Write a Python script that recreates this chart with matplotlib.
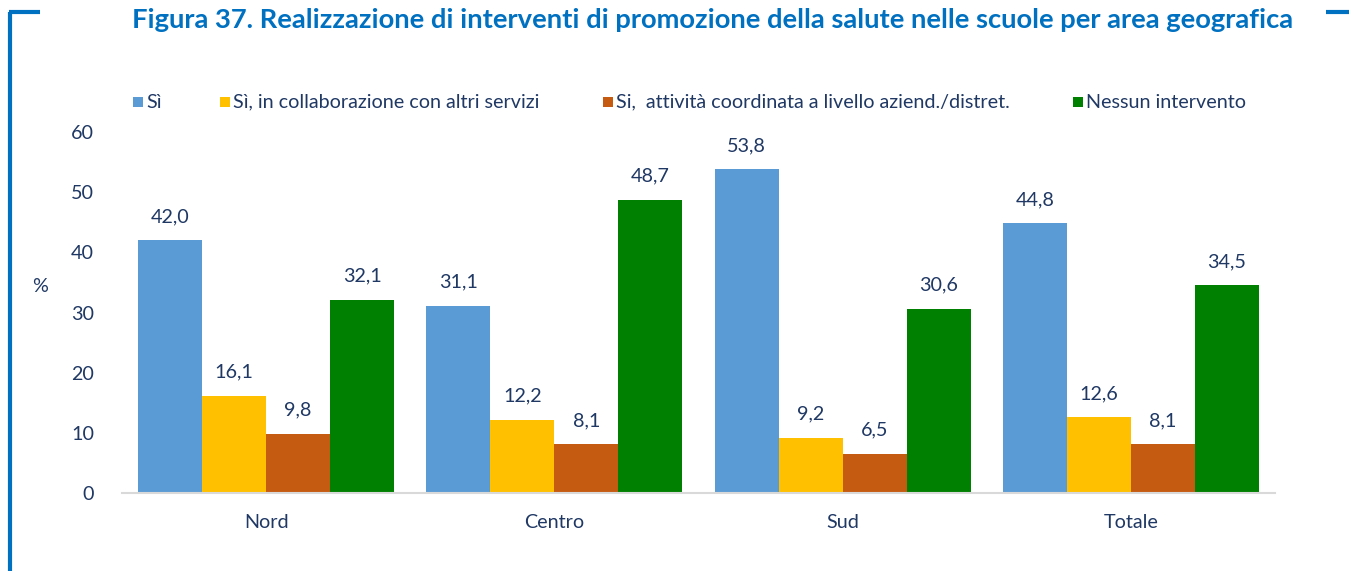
import matplotlib
matplotlib.use("Agg")
import matplotlib.pyplot as plt
import numpy as np
from matplotlib.patches import Rectangle
from matplotlib.lines import Line2D

plt.rcParams['font.family'] = ['Lato', 'DejaVu Sans']

categories = ["Nord", "Centro", "Sud", "Totale"]
series_names = [
    "Sì",
    "Sì, in collaborazione con altri servizi",
    "Si,  attività coordinata a livello aziend./distret.",
    "Nessun intervento",
]
si = [42.0, 31.1, 53.8, 44.8]
si_collab = [16.1, 12.2, 9.2, 12.6]
si_coord = [9.8, 8.1, 6.5, 8.1]
nessuno = [32.1, 48.7, 30.6, 34.5]
series_values = [si, si_collab, si_coord, nessuno]
yticks = [0, 10, 20, 30, 40, 50, 60]

colors = ["#5B9BD5", "#FFC000", "#C55A11", "#008000"]
text_color = "#1F3864"
title_color = "#0070C0"
fs = 14.2

W, H = 1349, 571
fig = plt.figure(figsize=(W / 100, H / 100), dpi=100)
ax = fig.add_axes([122 / W, 1 - 493 / H, (1275 - 122) / W, (493 - 132) / H])

x = np.arange(len(categories))
bw = 0.222
offsets = (np.arange(4) - 1.5) * bw
for vals, off, col in zip(series_values, offsets, colors):
    bars = ax.bar(x + off, vals, width=bw, color=col, edgecolor="none")
    for b, v in zip(bars, vals):
        ax.annotate(f"{v:.1f}".replace(".", ","),
                    (b.get_x() + b.get_width() / 2, v),
                    xytext=(0, 11), textcoords="offset points",
                    ha="center", va="bottom", fontsize=fs, color=text_color)

ax.set_xlim(-0.5, 3.5)
ax.set_ylim(0, 60)
ax.set_yticks(yticks)
ax.set_yticklabels([str(t) for t in yticks])
ax.set_xticks(x)
ax.set_xticklabels(categories)
ax.tick_params(axis="both", length=0, labelsize=fs, colors=text_color)
ax.tick_params(axis="y", pad=20)
ax.tick_params(axis="x", pad=15)
for s in ["top", "right", "left"]:
    ax.spines[s].set_visible(False)
ax.spines["bottom"].set_color("#D9D9D9")
ax.spines["bottom"].set_linewidth(1.5)

fig.text(40 / W, 1 - 286 / H, "%", fontsize=fs, color=text_color,
         ha="center", va="center")

# Title
fig.text(713 / W, 1 - 20 / H,
         "Figura 37. Realizzazione di interventi di promozione della salute nelle scuole per area geografica",
         fontsize=19.7, fontweight="bold", color=title_color, ha="center", va="center")

# Legend
leg_x = [133, 220, 603, 1073]
leg_y = 1 - 102 / H
for lx, name, col in zip(leg_x, series_names, colors):
    fig.patches.append(Rectangle((lx / W, leg_y - 5 / H), 10 / W, 10 / H,
                                 transform=fig.transFigure, facecolor=col,
                                 edgecolor="none"))
    fig.text((lx + 13) / W, leg_y, name, fontsize=fs, color=text_color,
             ha="left", va="center")

# Frame decoration
frame_col = "#0070C0"
fig.add_artist(Line2D([10 / W, 10 / W], [0, 1 - 12 / H], transform=fig.transFigure,
                      color=frame_col, lw=3, solid_capstyle="butt"))
fig.add_artist(Line2D([8.5 / W, 40 / W], [1 - 12 / H, 1 - 12 / H], transform=fig.transFigure,
                      color=frame_col, lw=3, solid_capstyle="butt"))
fig.add_artist(Line2D([1326 / W, 1349 / W], [1 - 12 / H, 1 - 12 / H], transform=fig.transFigure,
                      color=frame_col, lw=3, solid_capstyle="butt"))

fig.savefig("out.png", dpi=100)
